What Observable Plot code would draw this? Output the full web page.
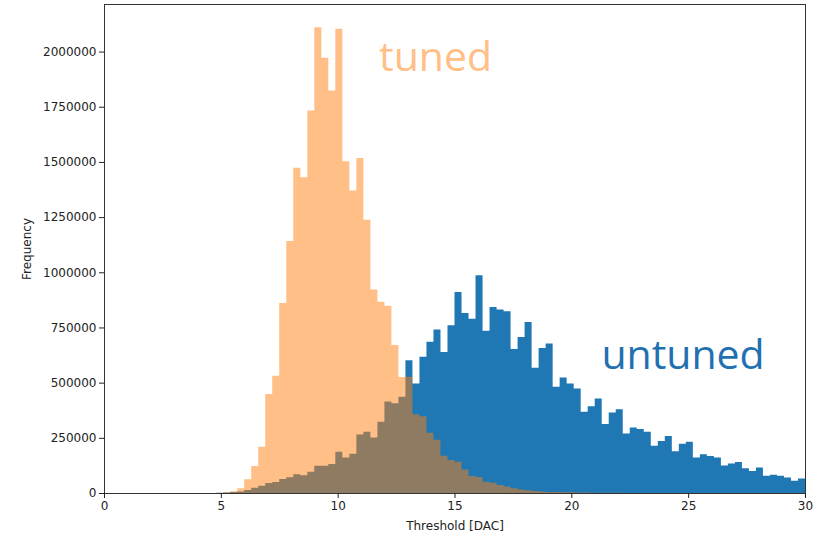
<!DOCTYPE html>
<html><head><meta charset="utf-8">
<script src="https://cdn.jsdelivr.net/npm/d3@7"></script>
<script src="https://cdn.jsdelivr.net/npm/@observablehq/plot@0.6"></script>
<style>
  html,body{margin:0;padding:0;background:#fff;}
  #chart{width:826px;height:539px;}
</style>
</head><body>
<div id="chart"></div>
<script>
// Histogram bins: 100 bins of width 0.3 DAC from 0 to 30
const binCount = 100;
const binLow = 0;
const binHigh = 30;

// Counts per bin (bin 0 = [0, 0.3), ... bin 99 = [29.7, 30))
const untunedCounts = [
  0,0,0,0,0,0,0,0,0,0,
  0,0,0,0,0,0,1000,2000,4000,7000,
  14000,24000,33000,45000,50000,63000,71000,85000,80000,96000,
  124000,124000,131000,187000,161000,178000,265000,277000,252000,323000,
  415000,407000,436000,602000,496000,617000,685000,741000,639000,760000,
  911000,816000,790000,986000,735000,843000,831000,824000,652000,707000,
  775000,567000,657000,677000,481000,523000,496000,474000,368000,393000,
  428000,313000,365000,379000,270000,297000,290000,277000,214000,236000,
  258000,189000,223000,232000,161000,176000,168000,161000,125000,134000,
  140000,112000,100000,115000,78000,83000,78000,70000,55000,66000
];
const tunedCounts = [
  0,0,0,0,0,0,0,0,0,0,
  0,0,0,0,0,0,500,3000,8000,21000,
  62000,122000,210000,448000,531000,861000,1142000,1474000,1431000,1733000,
  2110000,1972000,1824000,2103000,1503000,1371000,1518000,1238000,922000,866000,
  848000,670000,526000,527000,357000,348000,273000,241000,169000,149000,
  142000,107000,77000,72000,51000,47000,36000,29000,21000,16000,
  12000,9000,7000,5000,4000,3500,3000,2500,2000,1500,
  1200,1000,800,600,500,400,300,0,0,0,
  0,0,0,0,0,0,0,0,0,0,
  0,0,0,0,0,0,0,0,0,0
];

const xTicks = [0, 5, 10, 15, 20, 25, 30];
const yTicks = [0, 250000, 500000, 750000, 1000000, 1250000, 1500000, 1750000, 2000000];
const yMax = 2215500;

const annotations = [
  {label: "tuned", x: 14.17, y: 1973000, color: "#ffbf86"},
  {label: "untuned", x: 24.76, y: 624000, color: "#1f71b2"}
];

// bin edges (data units)
const edges = d3.range(binCount + 1).map(i => binLow + (binHigh - binLow) * i / binCount);
function stepData(counts) {
  const pts = counts.map((c, i) => ({x: edges[i], y: c}));
  pts.push({x: edges[binCount], y: counts[binCount - 1]});
  return pts;
}
const untunedSteps = stepData(untunedCounts);
const tunedSteps = stepData(tunedCounts);

const chart = Plot.plot({
  width: 826,
  height: 539,
  marginLeft: 104,
  marginRight: 21,
  marginTop: 4,
  marginBottom: 46,
  style: {fontFamily: "DejaVu Sans", fontSize: "12px", color: "#222", background: "#fff"},
  x: {domain: [binLow, binHigh]},
  y: {domain: [0, yMax]},
  marks: [
    Plot.areaY(untunedSteps, {x: "x", y: "y", curve: "step-after", fill: "#1f77b4"}),
    Plot.areaY(tunedSteps, {x: "x", y: "y", curve: "step-after", fill: "#ff7f0e", fillOpacity: 0.5}),
    Plot.text(annotations, {x: "x", y: "y", text: "label", fill: "color", fontSize: 41,
      fontFamily: "Open Sans", textAnchor: "middle", lineAnchor: "middle"}),
    Plot.frame({stroke: "#333", strokeWidth: 1}),
    Plot.axisX({ticks: xTicks, tickSize: 5, tickPadding: 3, fontSize: 12,
      label: "Threshold [DAC]", labelAnchor: "center", labelOffset: 36, labelArrow: "none"}),
    Plot.axisY({ticks: yTicks, tickSize: 5, tickPadding: 3, fontSize: 12, tickFormat: d3.format("d"),
      label: "Frequency", labelAnchor: "center", labelOffset: 82, labelArrow: "none"})
  ]
});
document.getElementById("chart").appendChild(chart);
</script>
</body></html>
